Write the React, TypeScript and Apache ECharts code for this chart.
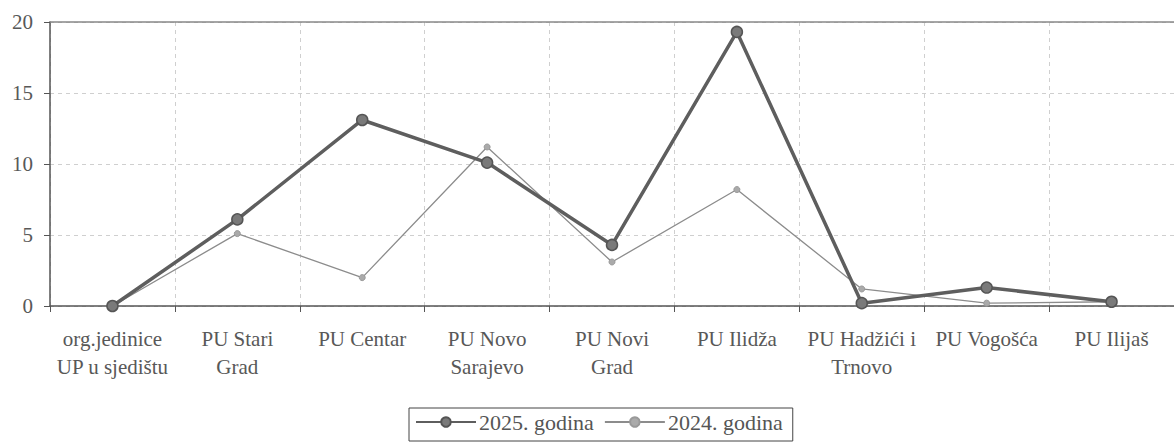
import React, { useEffect, useRef } from "react";
import * as echarts from "echarts";

const categories = [
  "org.jedinice\nUP u sjedištu",
  "PU Stari\nGrad",
  "PU Centar",
  "PU Novo\nSarajevo",
  "PU Novi\nGrad",
  "PU Ilidža",
  "PU Hadžići i\nTrnovo",
  "PU Vogošća",
  "PU Ilijaš",
];
const values2025 = [0, 6.1, 13.1, 10.1, 4.3, 19.3, 0.2, 1.3, 0.3];
const values2024 = [0, 5.1, 2.0, 11.2, 3.1, 8.2, 1.2, 0.2, 0.3];
const seriesNames = ["2025. godina", "2024. godina"];

const FONT = "Liberation Serif";

export default function App() {
  const ref = useRef<HTMLDivElement>(null);
  useEffect(() => {
    if (!ref.current) return;
    const chart = echarts.init(ref.current, null, { renderer: "svg" });
    chart.setOption({
      animation: false,
      backgroundColor: "#ffffff",
      textStyle: { fontFamily: FONT },
      grid: { left: 50, top: 22, width: 1131, height: 284 },
      legend: {
        data: seriesNames,
        top: 408,
        left: 409,
        padding: [3, 10, 8, 6],
        itemGap: 10,
        itemWidth: 60,
        itemHeight: 12,
        borderColor: "#444",
        borderWidth: 1,
        borderRadius: 0,
        textStyle: { fontFamily: FONT, fontSize: 22, color: "#555", padding: [0, 0, 0, -2] },
      },
      xAxis: [
        {
          type: "category",
          data: categories,
          boundaryGap: true,
          axisLine: { show: true, lineStyle: { color: "#555", width: 1.5 } },
          axisTick: { show: true, alignWithLabel: false, length: 6, lineStyle: { color: "#555" } },
          axisLabel: {
            interval: 0,
            margin: 19,
            fontFamily: FONT,
            fontSize: 21,
            lineHeight: 28,
            color: "#585858",
          },
          splitLine: { show: true, lineStyle: { color: "#cfcfcf", type: [4, 4], width: 1 } },
        },
        {
          type: "category",
          data: categories,
          position: "top",
          axisLine: { show: true, lineStyle: { color: "#888", width: 1.5 } },
          axisTick: { show: false },
          axisLabel: { show: false },
          splitLine: { show: false },
        },
      ],
      yAxis: {
        type: "value",
        min: 0,
        max: 20,
        interval: 5,
        axisLine: { show: true, lineStyle: { color: "#555", width: 1.5 } },
        axisTick: { show: true, length: 6, lineStyle: { color: "#555" } },
        axisLabel: { margin: 17, fontFamily: FONT, fontSize: 21, color: "#585858" },
        splitLine: { show: true, lineStyle: { color: "#cfcfcf", type: [4, 4], width: 1 } },
      },
      series: [
        {
          name: seriesNames[0],
          type: "line",
          data: values2025,
          symbol: "circle",
          symbolSize: 11,
          lineStyle: { color: "#5e5e5e", width: 3.5 },
          itemStyle: { color: "#7a7a7a", borderColor: "#555", borderWidth: 1.5 },
          z: 3,
        },
        {
          name: seriesNames[1],
          type: "line",
          data: values2024,
          symbol: "circle",
          symbolSize: 6,
          lineStyle: { color: "#8c8c8c", width: 1.3 },
          itemStyle: { color: "#aaaaaa", borderColor: "#999", borderWidth: 1 },
          z: 2,
        },
      ],
    });
    return () => chart.dispose();
  }, []);
  return (
    <div
      ref={ref}
      style={{ position: "fixed", left: 0, top: 0, width: 1174, height: 444, background: "#fff" }}
    />
  );
}
